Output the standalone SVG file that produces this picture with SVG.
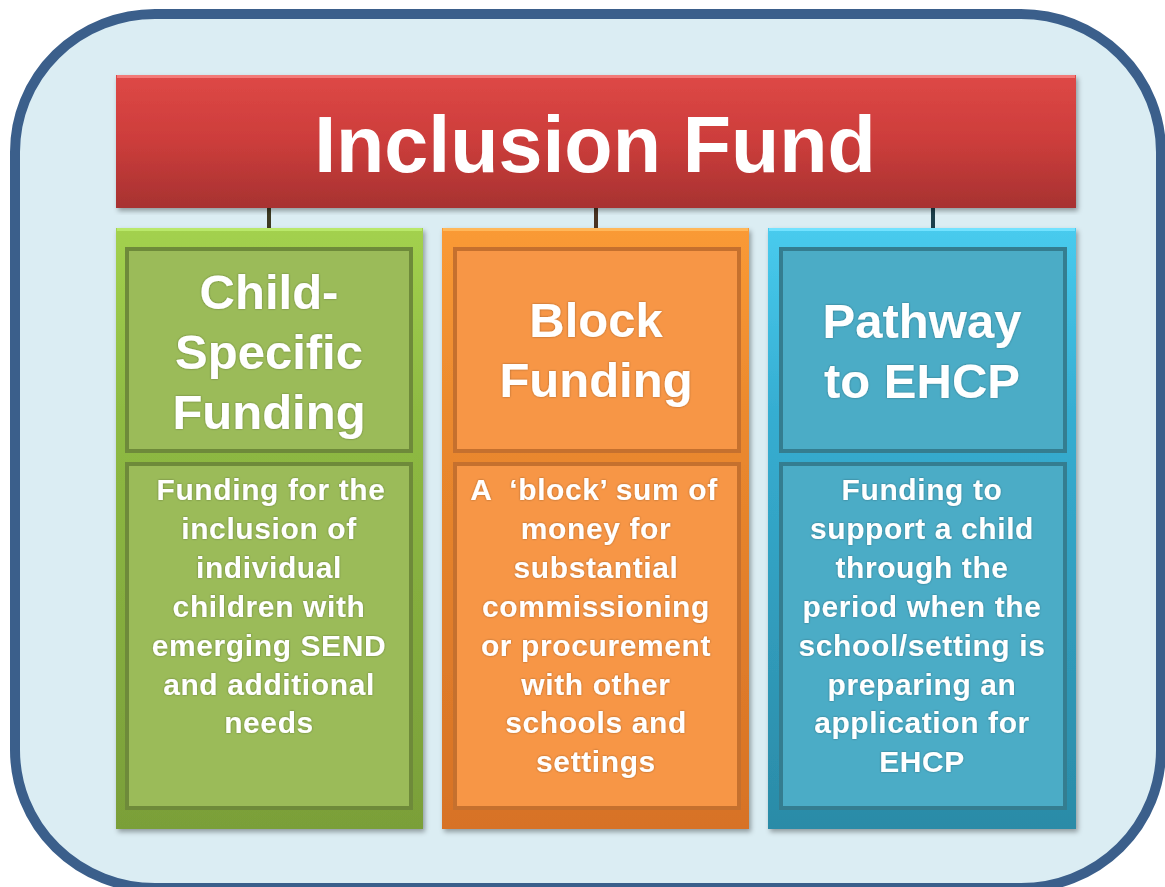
<svg xmlns="http://www.w3.org/2000/svg" width="1165" height="887" viewBox="0 0 1165 887">
  <defs>
    <linearGradient id="gRed" x1="0" y1="0" x2="0" y2="1">
      <stop offset="0" stop-color="#de4846"/>
      <stop offset="0.5" stop-color="#cc3d3b"/>
      <stop offset="1" stop-color="#a73231"/>
    </linearGradient>
    <linearGradient id="gGreen" x1="0" y1="0" x2="0" y2="1">
      <stop offset="0" stop-color="#a3d14e"/>
      <stop offset="0.3" stop-color="#8fbb43"/>
      <stop offset="1" stop-color="#7a9f39"/>
    </linearGradient>
    <linearGradient id="gOrange" x1="0" y1="0" x2="0" y2="1">
      <stop offset="0" stop-color="#fa9a35"/>
      <stop offset="0.3" stop-color="#ec8a2e"/>
      <stop offset="1" stop-color="#d77226"/>
    </linearGradient>
    <linearGradient id="gTeal" x1="0" y1="0" x2="0" y2="1">
      <stop offset="0" stop-color="#48cbee"/>
      <stop offset="0.3" stop-color="#36aed2"/>
      <stop offset="1" stop-color="#2b8ba7"/>
    </linearGradient>
    <filter id="shadow" x="-5%" y="-5%" width="110%" height="110%">
      <feDropShadow dx="2" dy="3" stdDeviation="2.5" flood-color="#000" flood-opacity="0.35"/>
    </filter>
    <filter id="tshadow" x="-5%" y="-10%" width="110%" height="120%">
      <feDropShadow dx="0" dy="0" stdDeviation="1.2" flood-color="#000" flood-opacity="0.35"/>
    </filter>
  </defs>
  <style>
    .title { font-family: "Liberation Sans", Arial, sans-serif; font-weight: bold; font-size: 79px; fill: #ffffff; text-anchor: middle; }
    .head { font-family: "Liberation Sans", Arial, sans-serif; font-weight: bold; font-size: 49px; fill: #ffffff; text-anchor: middle; }
    .body { font-family: "Liberation Sans", Arial, sans-serif; font-weight: bold; font-size: 30px; fill: #ffffff; text-anchor: middle; letter-spacing: 0.6px; white-space: pre; }
    .conn { stroke-width: 4; fill: none; }
    .innerG { fill: #9bbb59; stroke: #6e8a3a; stroke-width: 4; }
    .innerO { fill: #f79646; stroke: #c5702e; stroke-width: 4; }
    .innerT { fill: #4bacc6; stroke: #347d90; stroke-width: 4; }
  </style>

  <g id="frame">
    <rect x="15" y="14" width="1146" height="874" rx="140" ry="138" fill="#dbedf3" stroke="#3b5f8b" stroke-width="10"/>
  </g>

  <g id="connectors">
    <line class="conn" x1="269" y1="208" x2="269" y2="229" stroke="#3d3a22"/>
    <line class="conn" x1="596" y1="208" x2="596" y2="229" stroke="#4a3322"/>
    <line class="conn" x1="933" y1="208" x2="933" y2="229" stroke="#1c3f4c"/>
  </g>

  <g id="title">
    <rect x="116" y="75" width="960" height="133" fill="url(#gRed)" filter="url(#shadow)"/>
    <line x1="117" y1="76.5" x2="1075" y2="76.5" stroke="#f27a78" stroke-width="3"/>
    <text class="title" x="595" y="172">Inclusion Fund</text>
  </g>

  <g id="child-specific">
    <rect x="116" y="228" width="307" height="601" fill="url(#gGreen)" filter="url(#shadow)"/>
    <line x1="117" y1="229.5" x2="422" y2="229.5" stroke="#b9e86a" stroke-width="3"/>
    <rect class="innerG" x="127" y="249" width="284" height="202"/>
    <rect class="innerG" x="127" y="464" width="284" height="344"/>
    <g filter="url(#tshadow)">
      <text class="head" x="269" y="309">Child-</text>
      <text class="head" x="269" y="369">Specific</text>
      <text class="head" x="269" y="429">Funding</text>
      <text class="body" x="271" y="500">Funding for the</text>
      <text class="body" x="269" y="539">inclusion of</text>
      <text class="body" x="269" y="578">individual</text>
      <text class="body" x="269" y="617">children with</text>
      <text class="body" x="269" y="656">emerging SEND</text>
      <text class="body" x="269" y="695">and additional</text>
      <text class="body" x="269" y="733">needs</text>
    </g>
  </g>

  <g id="block-funding">
    <rect x="442" y="228" width="307" height="601" fill="url(#gOrange)" filter="url(#shadow)"/>
    <line x1="443" y1="229.5" x2="748" y2="229.5" stroke="#ffb75a" stroke-width="3"/>
    <rect class="innerO" x="455" y="249" width="284" height="202"/>
    <rect class="innerO" x="455" y="464" width="284" height="344"/>
    <g filter="url(#tshadow)">
      <text class="head" x="596" y="337">Block</text>
      <text class="head" x="596" y="397">Funding</text>
      <text class="body" x="594" y="500">A  ‘block’ sum of</text>
      <text class="body" x="596" y="539">money for</text>
      <text class="body" x="596" y="578">substantial</text>
      <text class="body" x="596" y="617">commissioning</text>
      <text class="body" x="596" y="656">or procurement</text>
      <text class="body" x="596" y="695">with other</text>
      <text class="body" x="596" y="733">schools and</text>
      <text class="body" x="596" y="772">settings</text>
    </g>
  </g>

  <g id="pathway-ehcp">
    <rect x="768" y="228" width="308" height="601" fill="url(#gTeal)" filter="url(#shadow)"/>
    <line x1="769" y1="229.5" x2="1075" y2="229.5" stroke="#72e2ff" stroke-width="3"/>
    <rect class="innerT" x="781" y="249" width="284" height="202"/>
    <rect class="innerT" x="781" y="464" width="284" height="344"/>
    <g filter="url(#tshadow)">
      <text class="head" x="922" y="338">Pathway</text>
      <text class="head" x="922" y="398">to EHCP</text>
      <text class="body" x="922" y="500">Funding to</text>
      <text class="body" x="922" y="539">support a child</text>
      <text class="body" x="922" y="578">through the</text>
      <text class="body" x="922" y="617">period when the</text>
      <text class="body" x="922" y="656">school/setting is</text>
      <text class="body" x="922" y="695">preparing an</text>
      <text class="body" x="922" y="733">application for</text>
      <text class="body" x="922" y="772">EHCP</text>
    </g>
  </g>
</svg>
